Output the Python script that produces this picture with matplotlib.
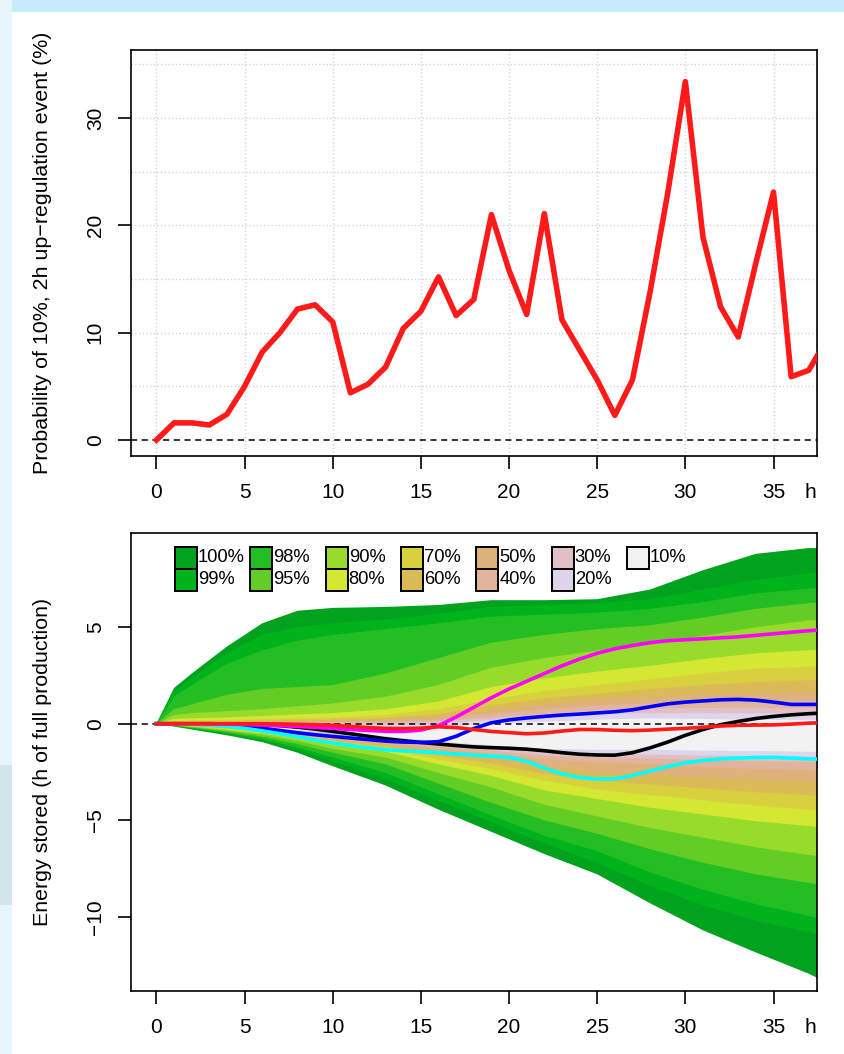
"""
Up-regulation probability and stored energy quantile bands.
"""

import matplotlib.pyplot as plt
from matplotlib.patches import Rectangle

plt.rcParams["font.family"] = ["Liberation Sans", "DejaVu Sans"]

# ---- top panel data ----
hours = list(range(0, 39))
prob_upreg = [0.0, 1.6, 1.6, 1.4, 2.4, 5.0, 8.2, 10.0, 12.2, 12.6, 11.0, 4.4, 5.2,
              6.8, 10.4, 12.0, 15.2, 11.6, 13.1, 21.0, 15.8, 11.7, 21.1, 11.2, 8.4,
              5.6, 2.3, 5.6, 13.8, 23.0, 33.4, 18.9, 12.4, 9.6, 16.5, 23.1, 5.9, 6.5, 9.3]

# ---- bottom panel data: quantile bands ----
band_hours = [0, 1, 2, 4, 6, 8, 10, 13, 16, 19, 22, 25, 28, 31, 34, 37, 38]
band_levels = ["100%", "99%", "98%", "95%", "90%", "80%", "70%",
               "60%", "50%", "40%", "30%", "20%", "10%"]
band_colors = ["#00a21e", "#00b31c", "#23be23", "#63cd26", "#97dc2b", "#d4e733",
               "#d8d03e", "#dbbb58", "#deb27a", "#e0b49d", "#e0c0c6", "#ded4eb",
               "#f2f2f2"]

upper_100 = [0, 1.85, 2.6, 4.0, 5.2, 5.85, 6.0, 6.05, 6.15, 6.4, 6.4, 6.45, 6.95, 7.95, 8.8, 9.1, 9.1]
upper_99 = [0, 1.65, 2.35, 3.65, 4.6, 5.0, 5.2, 5.4, 5.7, 6.05, 6.15, 6.25, 6.45, 6.95, 7.45, 7.8, 7.85]
upper_98 = [0, 1.4, 2.0, 3.1, 3.8, 4.3, 4.6, 4.9, 5.2, 5.55, 5.65, 5.75, 5.95, 6.3, 6.75, 7.0, 7.05]
upper_95 = [0, 0.75, 1.0, 1.5, 1.8, 1.9, 2.0, 2.6, 3.4, 4.2, 4.6, 4.9, 5.1, 5.5, 5.95, 6.25, 6.3]
upper_90 = [0, 0.45, 0.55, 0.65, 0.75, 0.9, 1.05, 1.4, 2.0, 2.9, 3.4, 3.8, 4.1, 4.55, 5.0, 5.35, 5.4]
upper_80 = [0, 0.25, 0.28, 0.33, 0.4, 0.48, 0.55, 0.75, 1.15, 1.9, 2.35, 2.7, 3.0, 3.35, 3.65, 3.8, 3.85]
upper_70 = [0, 0.15, 0.17, 0.2, 0.24, 0.28, 0.32, 0.45, 0.75, 1.25, 1.7, 2.0, 2.3, 2.6, 2.85, 2.95, 3.0]
upper_60 = [0, 0.1, 0.11, 0.13, 0.16, 0.19, 0.22, 0.3, 0.5, 0.95, 1.3, 1.55, 1.8, 2.0, 2.15, 2.25, 2.3]
upper_50 = [0, 0.07, 0.08, 0.09, 0.11, 0.13, 0.15, 0.2, 0.35, 0.7, 1.0, 1.25, 1.4, 1.55, 1.6, 1.65, 1.7]
upper_40 = [0, 0.05, 0.05, 0.06, 0.07, 0.08, 0.1, 0.12, 0.22, 0.5, 0.75, 0.95, 1.06, 1.15, 1.2, 1.23, 1.25]
upper_30 = [0, 0.03, 0.03, 0.03, 0.04, 0.04, 0.05, 0.05, 0.12, 0.32, 0.5, 0.7, 0.8, 0.82, 0.8, 0.8, 0.8]
upper_20 = [0, 0.02, 0.02, 0.01, 0.0, -0.02, -0.03, -0.05, 0.0, 0.2, 0.35, 0.5, 0.55, 0.55, 0.54, 0.54, 0.55]
upper_10 = [0, 0.01, 0.0, -0.03, -0.07, -0.12, -0.18, -0.25, -0.2, 0.0, 0.1, 0.22, 0.28, 0.25, 0.2, 0.2, 0.2]

lower_100 = [0, -0.15, -0.3, -0.6, -0.95, -1.5, -2.2, -3.2, -4.45, -5.6, -6.75, -7.8, -9.3, -10.7, -11.85, -12.95, -13.4]
lower_99 = [0, -0.13, -0.26, -0.53, -0.85, -1.35, -1.95, -2.85, -4.0, -5.1, -6.2, -7.2, -8.4, -9.4, -10.2, -10.8, -11.0]
lower_98 = [0, -0.11, -0.23, -0.48, -0.78, -1.22, -1.75, -2.55, -3.65, -4.75, -5.8, -6.6, -7.7, -8.6, -9.35, -9.95, -10.15]
lower_95 = [0, -0.1, -0.2, -0.42, -0.68, -1.05, -1.5, -2.1, -3.1, -4.1, -5.0, -5.7, -6.5, -7.2, -7.8, -8.25, -8.4]
lower_90 = [0, -0.08, -0.17, -0.36, -0.58, -0.9, -1.3, -1.75, -2.55, -3.3, -4.2, -4.8, -5.4, -5.9, -6.4, -6.8, -6.9]
lower_80 = [0, -0.07, -0.14, -0.31, -0.5, -0.78, -1.1, -1.45, -2.1, -2.7, -3.45, -3.9, -4.35, -4.7, -5.05, -5.3, -5.4]
lower_70 = [0, -0.06, -0.12, -0.27, -0.45, -0.7, -1.0, -1.3, -1.85, -2.35, -2.95, -3.4, -3.7, -3.95, -4.25, -4.45, -4.5]
lower_60 = [0, -0.05, -0.1, -0.24, -0.4, -0.63, -0.9, -1.18, -1.65, -2.05, -2.6, -2.95, -3.15, -3.35, -3.55, -3.7, -3.75]
lower_50 = [0, -0.04, -0.09, -0.21, -0.36, -0.57, -0.8, -1.06, -1.45, -1.8, -2.25, -2.5, -2.65, -2.8, -2.9, -3.0, -3.05]
lower_40 = [0, -0.035, -0.07, -0.18, -0.32, -0.5, -0.72, -0.95, -1.3, -1.55, -1.85, -2.0, -2.1, -2.25, -2.35, -2.4, -2.45]
lower_30 = [0, -0.03, -0.06, -0.15, -0.28, -0.44, -0.63, -0.85, -1.15, -1.4, -1.65, -1.75, -1.8, -1.88, -1.93, -1.97, -2.0]
lower_20 = [0, -0.02, -0.05, -0.12, -0.24, -0.38, -0.55, -0.75, -1.03, -1.28, -1.5, -1.55, -1.6, -1.65, -1.68, -1.71, -1.73]
lower_10 = [0, -0.015, -0.04, -0.1, -0.2, -0.32, -0.47, -0.65, -0.92, -1.12, -1.3, -1.35, -1.35, -1.4, -1.42, -1.45, -1.47]

band_upper = [upper_100, upper_99, upper_98, upper_95, upper_90, upper_80, upper_70,
              upper_60, upper_50, upper_40, upper_30, upper_20, upper_10]
band_lower = [lower_100, lower_99, lower_98, lower_95, lower_90, lower_80, lower_70,
              lower_60, lower_50, lower_40, lower_30, lower_20, lower_10]

# ---- bottom panel data: scenario lines ----
line_black = [0, 0, 0, 0, -0.01, -0.02, -0.05, -0.1, -0.18, -0.28, -0.4, -0.52, -0.65,
              -0.78, -0.88, -0.97, -1.05, -1.13, -1.2, -1.24, -1.27, -1.32, -1.4, -1.5,
              -1.58, -1.62, -1.63, -1.5, -1.25, -0.95, -0.6, -0.3, -0.05, 0.12, 0.27,
              0.38, 0.46, 0.52, 0.56]
line_blue = [0, 0, -0.01, -0.03, -0.08, -0.15, -0.23, -0.35, -0.47, -0.57, -0.66, -0.74,
             -0.82, -0.9, -0.95, -0.97, -0.93, -0.65, -0.25, 0.05, 0.2, 0.3, 0.38, 0.45,
             0.5, 0.56, 0.62, 0.72, 0.88, 1.03, 1.12, 1.18, 1.24, 1.26, 1.22, 1.12, 1.0,
             1.0, 1.0]
line_cyan = [0, -0.01, -0.03, -0.07, -0.14, -0.24, -0.37, -0.52, -0.68, -0.85, -1.0,
             -1.13, -1.25, -1.35, -1.41, -1.45, -1.5, -1.57, -1.63, -1.68, -1.74, -1.95,
             -2.3, -2.6, -2.78, -2.87, -2.85, -2.68, -2.45, -2.22, -2.02, -1.9, -1.82,
             -1.78, -1.75, -1.74, -1.78, -1.82, -1.84]
line_magenta = [0, 0, 0, -0.01, -0.02, -0.04, -0.07, -0.1, -0.14, -0.19, -0.24, -0.3,
                -0.35, -0.39, -0.4, -0.33, -0.1, 0.35, 0.85, 1.35, 1.8, 2.2, 2.6, 3.0,
                3.35, 3.65, 3.88, 4.05, 4.2, 4.3, 4.35, 4.4, 4.45, 4.5, 4.58, 4.66, 4.74,
                4.82, 4.88]
line_red = [0, 0, 0, 0, 0, 0, 0, -0.01, -0.03, -0.05, -0.08, -0.14, -0.2, -0.24, -0.25,
            -0.23, -0.16, -0.2, -0.3, -0.4, -0.46, -0.52, -0.48, -0.38, -0.3, -0.3, -0.34,
            -0.36, -0.33, -0.28, -0.24, -0.18, -0.12, -0.08, -0.07, -0.06, -0.02, 0.03, 0.06]

hour_ticks = [0, 5, 10, 15, 20, 25, 30, 35]


def style_axes(ax):
    """R-like box, outward ticks and the trailing 'h' label."""
    for sp in ax.spines.values():
        sp.set_linewidth(1.2)
    ax.set_xticks(hour_ticks)
    ax.set_xticks([37.1], ["h"], minor=True)
    ax.tick_params(axis="x", which="major", direction="out", length=9.6, width=1.2,
                   pad=10, labelsize=15)
    ax.tick_params(axis="x", which="minor", length=0, pad=19.6, labelsize=15)
    ax.tick_params(axis="y", direction="out", length=9.6, width=1.2, pad=9,
                   labelsize=15, labelrotation=90)
    for lab in ax.get_yticklabels():
        lab.set_verticalalignment("center")
    ax.yaxis.set_label_coords(-0.114, 0.5)


fig = plt.figure(figsize=(8.45, 10.54), dpi=100)
fig.patch.set_facecolor("white")
# light blue page edges
fig.add_artist(Rectangle((0, 1 - 12 / 1054), 1, 12 / 1054, transform=fig.transFigure,
                         facecolor="#c6ecfc", edgecolor="none", zorder=0))
fig.add_artist(Rectangle((0, 0), 12 / 845, 1, transform=fig.transFigure,
                         facecolor="#e6f6fc", edgecolor="none", zorder=0))
fig.add_artist(Rectangle((0, 1 - 905 / 1054), 12 / 845, 140 / 1054,
                         transform=fig.transFigure, facecolor="#d2e6ec",
                         edgecolor="none", zorder=0))

# ---- top panel ----
ax1 = fig.add_axes([130.7 / 845, 1 - 455.7 / 1054, 686 / 845, 405.7 / 1054])
ax1.set_xlim(-1.46, 37.45)
ax1.set_ylim(-1.46, 36.34)
for v in hour_ticks:
    ax1.axvline(v, color="#d3d3d3", linestyle=":", linewidth=1, zorder=1)
for v in [5, 10, 15, 20, 25, 30, 35]:
    ax1.axhline(v, color="#d3d3d3", linestyle=":", linewidth=1, zorder=1)
ax1.axhline(0, color="black", linestyle=(0, (4, 3)), linewidth=1.1, zorder=2)
ax1.plot(hours, prob_upreg, color="#ff1a1a", linewidth=4.0, zorder=3,
         solid_joinstyle="round")
ax1.set_yticks([0, 10, 20, 30])
ax1.set_ylabel("Probability of 10%, 2h up\u2212regulation event (%)", fontsize=15.4)
style_axes(ax1)

# ---- bottom panel ----
ax2 = fig.add_axes([130.7 / 845, 1 - 990.7 / 1054, 686 / 845, 457.7 / 1054])
ax2.set_xlim(-1.46, 37.45)
ax2.set_ylim(-13.83, 9.88)
for col, up, lo in zip(band_colors, band_upper, band_lower):
    ax2.fill_between(band_hours, lo, up, facecolor=col, linewidth=0, zorder=1)
ax2.axhline(0, color="black", linestyle=(0, (4, 3)), linewidth=1.1, zorder=2)
ax2.plot(hours, line_black, color="black", linewidth=2.6, zorder=3)
ax2.plot(hours, line_blue, color="#0000ff", linewidth=2.6, zorder=3)
ax2.plot(hours, line_cyan, color="#00ffff", linewidth=2.6, zorder=3)
ax2.plot(hours, line_magenta, color="#ff00ff", linewidth=2.6, zorder=3)
ax2.plot(hours, line_red, color="#ff1a1a", linewidth=2.6, zorder=3)
ax2.set_yticks([-10, -5, 0, 5])
ax2.set_ylabel("Energy stored (h of full production)", fontsize=15.4)
style_axes(ax2)

# legend: two rows of filled boxes, column by column
box_w, box_h = 22 / 686, 22 / 457.7
x0, y_top, pitch = 0.0646, 0.970, 0.1098
for i, (lab, col) in enumerate(zip(band_levels, band_colors)):
    c, r = i // 2, i % 2
    bx = x0 + c * pitch
    by = y_top - (r + 1) * box_h
    ax2.add_patch(Rectangle((bx, by), box_w, box_h, transform=ax2.transAxes,
                            facecolor=col, edgecolor="black", linewidth=1.4,
                            zorder=5, clip_on=False))
    ax2.text(bx + box_w + 1 / 686, by + box_h / 2, lab, transform=ax2.transAxes,
             fontsize=13.2, ha="left", va="center", zorder=6)

plt.savefig("out.png", dpi=100)
plt.close(fig)
